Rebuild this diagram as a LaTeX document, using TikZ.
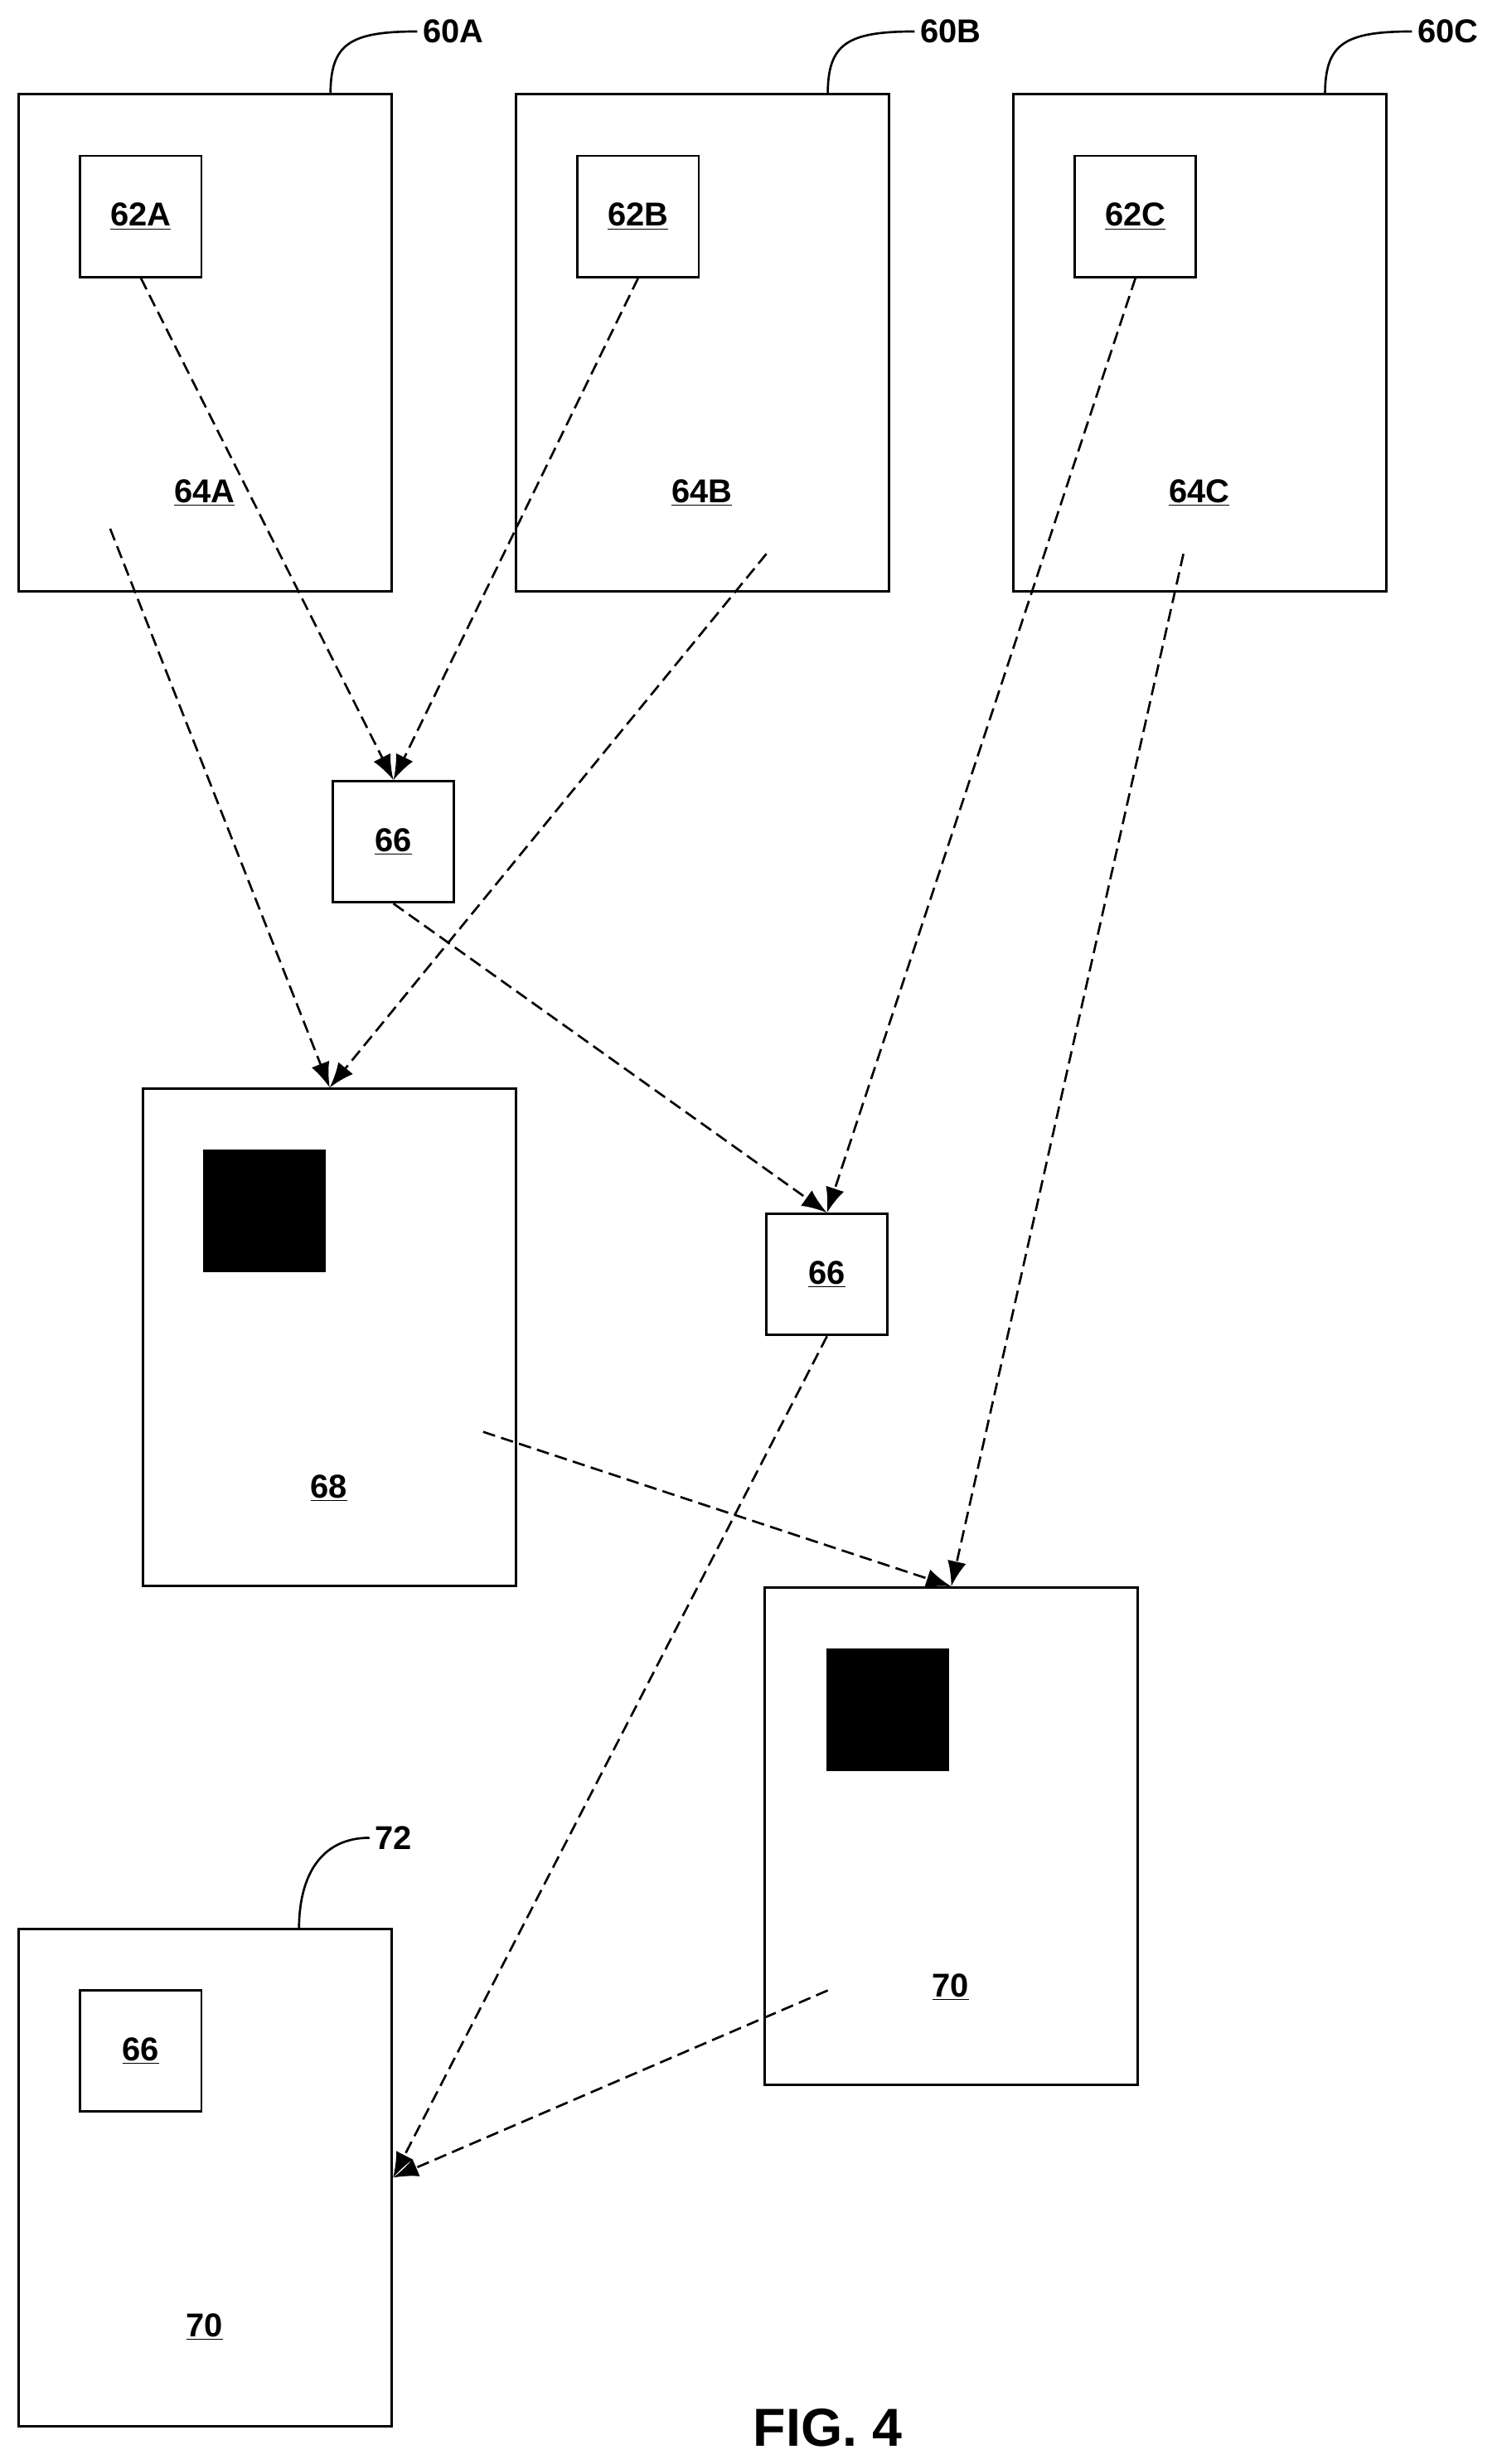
\documentclass[tikz,border=0pt]{standalone}
\usepackage{fontspec}
\setmainfont{Liberation Sans}
\usetikzlibrary{arrows.meta,positioning,calc}

\begin{document}
\begin{tikzpicture}[x=1pt, y=-1pt,
		big_box/.style = {rectangle, draw, line width = 1.5pt, minimum width = 237pt, minimum height = 316pt, inner sep = 0pt},
		small_box/.style = {rectangle, draw, line width = 1.5pt, minimum width = 77pt, minimum height = 77pt, inner sep = 0pt, font = \fontsize{21}{24}\selectfont\bfseries},
		black_box/.style = {rectangle, fill = black, minimum width = 78pt, minimum height = 78pt, inner sep = 0pt},
		lbl/.style = {font = \fontsize{21}{24}\selectfont\bfseries},
		flow/.style = {-{Latex[length=16pt, width=12pt]}, dash pattern = on 8pt off 4pt, line width = 1.4pt},
		lead/.style = {line width = 1.4pt},
		]
		\useasboundingbox (0,0) rectangle (954,1566);

		%top row
		\node[big_box](60A) at (130.5,218){};
		\node[big_box](60B) at (446.5,218){};
		\node[big_box](60C) at (762.5,218){};
		\node[small_box](62A) at (89.5,137.5){\underline{62A}};
		\node[small_box](62B) at (405.5,137.5){\underline{62B}};
		\node[small_box](62C) at (721.5,137.5){\underline{62C}};
		\node[lbl](64A) at (130,313){\underline{64A}};
		\node[lbl](64B) at (446,313){\underline{64B}};
		\node[lbl](64C) at (762,313){\underline{64C}};
		\node[lbl](l60A) at (288,20){60A};
		\node[lbl](l60B) at (604,20){60B};
		\node[lbl](l60C) at (920,20){60C};
		\draw[lead] (210,60) .. controls (210,28) and (222,20) .. (l60A.west);
		\draw[lead] (526,60) .. controls (526,28) and (538,20) .. (l60B.west);
		\draw[lead] (842,60) .. controls (842,28) and (854,20) .. (l60C.west);

		%middle
		\node[small_box](66a) at (250,535){\underline{66}};
		\node[big_box](68) at (209.5,850){};
		\node[black_box] at (168,769.5){};
		\node[lbl](l68) at (209,946){\underline{68}};
		\node[small_box](66b) at (525.5,810){\underline{66}};
		\node[big_box](70a) at (604.5,1167){};
		\node[black_box] at (564,1086.5){};
		\node[lbl](l70a) at (604,1263){\underline{70}};

		%bottom
		\node[big_box](72) at (130.5,1384){};
		\node[small_box](66c) at (89.5,1303.5){\underline{66}};
		\node[lbl](l70b) at (130,1479){\underline{70}};
		\node[lbl](l72) at (250,1168){72};
		\draw[lead] (190,1226) .. controls (190,1192) and (204,1168) .. (l72.west);
		\node[font = \fontsize{34}{38}\selectfont\bfseries](fig) at (526,1543){FIG. 4};

		%flows
		\coordinate (s64A) at (70,336);
		\coordinate (s64B) at (487,352);
		\coordinate (s64C) at (752,352);
		\coordinate (s68) at (307,910);
		\coordinate (s70) at (526,1265);
		\draw[flow] (62A.south) -- (66a.north);
		\draw[flow] (62B.south) -- (66a.north);
		\draw[flow] (s64A) -- (68.north);
		\draw[flow] (s64B) -- (68.north);
		\draw[flow] (66a.south) -- (66b.north);
		\draw[flow] (62C.south) -- (66b.north);
		\draw[flow] (s64C) -- (70a.north);
		\draw[flow] (s68) -- (70a.north);
		\draw[flow] (66b.south) -- (72.east);
		\draw[flow] (s70) -- (72.east);
\end{tikzpicture}
\end{document}
